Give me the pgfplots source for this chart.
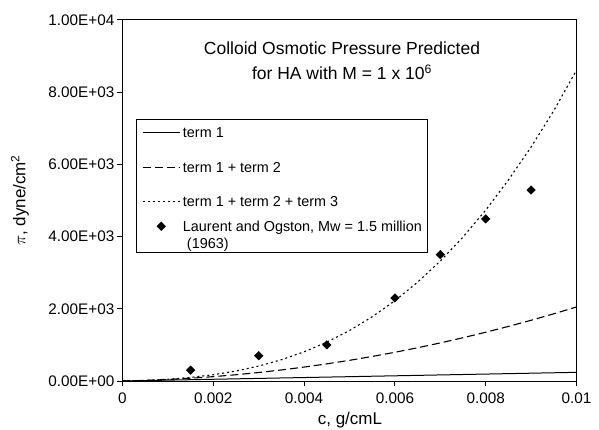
\documentclass[border=0pt]{standalone}
\usepackage{fontspec}
\setmainfont{Liberation Sans}
\usepackage{pgfplots}
\pgfplotsset{compat=1.18}
\pgfplotsset{
  lineleg/.style={legend image code/.code={\draw[##1] (0bp,5.2bp) -- (37bp,5.2bp);}},
  markleg/.style={legend image code/.code={\draw[##1] plot coordinates {(18.5bp,5.2bp)};}},
}
\pgfplotstableread{
c t1 t12 t123
0 0 0 0
0.0005 12 16.5 17.4
0.001 24 42.1 48.7
0.0015 36 76.7 99.0
0.002 48 120.4 173.3
0.0025 60 173.1 276.4
0.003 72 234.9 413.4
0.0035 84 305.7 589.1
0.004 96 385.6 808.6
0.0045 108 474.5 1076.8
0.005 120 572.5 1398.8
0.0055 132 679.5 1779.3
0.006 144 795.6 2223.4
0.0065 156 920.7 2736.0
0.007 168 1054.9 3322.1
0.0075 180 1198.1 3986.7
0.008 192 1350.4 4734.7
0.0085 204 1511.7 5571.1
0.009 216 1682.1 6480.0
0.0095 228 1861.5 7490.0
0.01 240 2050 8610
}\curves
\pgfplotstableread{
c p
0.0015 300
0.003 700
0.0045 1000
0.006 2300
0.007 3500
0.008 4490
0.009 5290
}\laurent
\begin{document}
\begin{tikzpicture}
\begin{axis}[
  at={(0,0)}, anchor=south west,
  scale only axis, width=454bp, height=361bp,
  xmin=0, xmax=0.01, ymin=0, ymax=10000,
  xtick={0,0.002,0.004,0.006,0.008,0.01},
  xticklabels={0,0.002,0.004,0.006,0.008,0.01},
  ytick={0,2000,4000,6000,8000,10000},
  yticklabels={0.00E+00,2.00E+03,4.00E+03,6.00E+03,8.00E+03,1.00E+04},
  scaled ticks=false,
  tick align=outside, xtick pos=bottom, ytick pos=left,
  major tick length=5bp,
  every tick/.style={black, line width=1bp},
  axis line style={line width=1bp},
  ticklabel style={font=\fontsize{15.3bp}{18bp}\selectfont, inner sep=0pt},
  xticklabel style={anchor=north, yshift=-7bp},
  yticklabel style={anchor=east, xshift=-3bp},
  xlabel={c, g/cmL},
  ylabel={$\pi$, dyne/cm\textsuperscript{2}},
  every axis x label/.style={at={(axis description cs:0.501,-0.108)}, anchor=center,
    font=\fontsize{17bp}{20bp}\selectfont, inner sep=0pt},
  every axis y label/.style={at={(axis description cs:-0.2258,0.5)}, anchor=center, rotate=90,
    font=\fontsize{17bp}{20bp}\selectfont, inner sep=0pt},
  legend style={at={(rel axis cs:0.029,0.7249)}, anchor=north west, draw=black, line width=1bp,
    inner xsep=6bp, inner ysep=0pt, row sep=0pt, column sep=2.7bp,
    cells={anchor=base west}, nodes={inner sep=0pt, text depth={}},
    font=\fontsize{14.4bp}{17.4bp}\selectfont},
]
\addplot[black, line width=1bp, lineleg]
  table[x=c, y=t1] {\curves};
\addlegendentry{\raisebox{0pt}[17.7bp][17.5bp]{term 1}}
\addplot[black, line width=1.1bp, dash pattern=on 8bp off 4bp, lineleg]
  table[x=c, y=t12] {\curves};
\addlegendentry{\raisebox{0pt}[17.5bp][17bp]{term 1 + term 2}}
\addplot[black, line width=1.1bp, dash pattern=on 2bp off 3bp, lineleg]
  table[x=c, y=t123] {\curves};
\addlegendentry{\raisebox{0pt}[17bp][12.5bp]{term 1 + term 2 + term 3}}
\addplot[only marks, mark=square*, mark size=3bp,
  mark options={rotate=45, fill=black, draw=black, solid, line width=0.5bp}, markleg]
  table[x=c, y=p] {\laurent};
\addlegendentry{{\raisebox{0pt}[12.5bp][20.7bp]{\begin{tabular}[t]{@{}l@{}}Laurent and Ogston, Mw = 1.5 million\\\hspace*{4bp}(1963)\end{tabular}}}}
\node[anchor=north, yshift=-21.5bp, align=center, inner sep=0pt,
  font=\fontsize{17.5bp}{25bp}\selectfont] at (rel axis cs:0.4835,1)
  {Colloid Osmotic Pressure Predicted\\for HA with M = 1 x 10\textsuperscript{6}};
\end{axis}
\pgfresetboundingbox
\path[use as bounding box] (-122.5bp,-49bp) rectangle (476.5bp,381bp);
\end{tikzpicture}
\end{document}
